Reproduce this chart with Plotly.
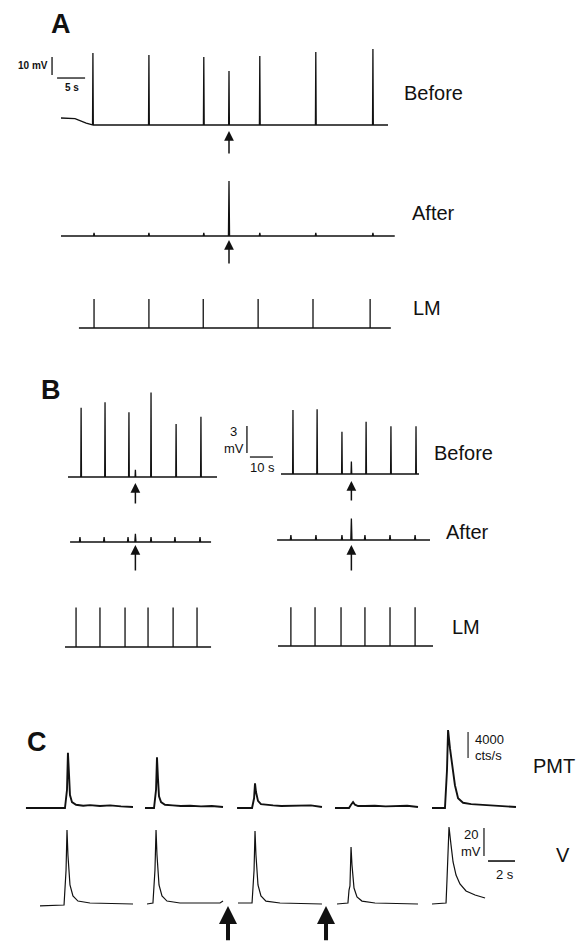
import plotly.graph_objects as go

W, H = 580, 945
FONT = "Liberation Sans, Arial, sans-serif"
INK = "#111111"

# ======================= DATA =======================
# ---- Panel A : time (s), membrane potential (mV), light monitor (a.u.)
A_stim_t = 30.0
A_before_span = [0.0, 58.4]
A_before_drift_t = [0.0, 2.5, 4.5, 5.4]
A_before_drift_mv = [3.9, 3.5, 1.0, 0.3]
A_before_spike_t = [5.7, 15.7, 25.5, 30.0, 35.5, 45.5, 55.7]
A_before_spike_mv = [40.0, 38.9, 37.8, 30.0, 38.3, 40.6, 42.2]
A_after_span = [0.0, 59.6]
A_after_spike_t = [5.9, 15.7, 25.5, 30.0, 35.5, 45.5, 55.7]
A_after_spike_mv = [1.7, 1.7, 1.7, 30.5, 1.7, 1.7, 1.7]
A_lm_span = [3.2, 58.9]
A_lm_t = [5.9, 15.7, 25.4, 35.2, 45.0, 55.2]
A_lm_amp = [16.1, 16.1, 16.1, 16.1, 16.1, 16.1]

# ---- Panel B : time (s), potential (mV), LM (a.u.); left and right records
B_stim_L, B_stim_R = 29.3, 30.6
B_beforeL_span = [0.0, 64.8]
B_beforeL_t = [5.7, 16.1, 26.5, 29.3, 36.1, 47.0, 57.8]
B_beforeL_mv = [7.7, 8.3, 7.2, 0.8, 9.4, 5.9, 6.7]
B_beforeR_span = [0.0, 60.0]
B_beforeR_t = [5.2, 15.7, 26.5, 30.6, 37.0, 47.8, 58.7]
B_beforeR_mv = [7.1, 7.2, 4.7, 1.4, 5.8, 5.3, 5.3]
B_afterL_span = [0.9, 62.2]
B_afterL_t = [5.2, 15.7, 26.1, 29.3, 36.1, 46.5, 57.4]
B_afterL_mv = [0.55, 0.55, 0.55, 0.9, 0.55, 0.55, 0.55]
B_afterR_span = [-1.7, 64.8]
B_afterR_t = [4.3, 15.2, 26.5, 30.6, 36.5, 47.4, 58.3]
B_afterR_mv = [0.55, 0.55, 0.55, 2.4, 0.55, 0.55, 0.55]
B_lmL_span = [-1.3, 62.2]
B_lmL_t = [3.5, 13.9, 24.8, 34.8, 45.7, 56.1]
B_lmL_amp = [4.4, 4.4, 4.4, 4.4, 4.4, 4.4]
B_lmR_span = [-1.3, 66.1]
B_lmR_t = [4.3, 14.8, 26.1, 36.5, 47.4, 58.3]
B_lmR_amp = [4.3, 4.3, 4.3, 4.3, 4.3, 4.3]

# ---- Panel C : five sweeps; time (s), PMT (1000 cts/s), V (mV)
C_pmt_t = [
    [-1.04, 1.85, 2.0, 2.07, 2.15, 2.22, 2.37, 2.67, 3.2, 3.7, 4.44, 5.2, 6.0, 6.89],
    [-0.15, 0.52, 0.67, 0.74, 0.81, 0.89, 1.04, 1.33, 1.9, 2.5, 3.19, 4.0, 4.8, 5.63],
    [-0.07, 1.04, 1.19, 1.26, 1.33, 1.48, 1.70, 2.0, 2.6, 3.2, 3.85, 4.6, 5.4, 6.22],
    [-0.15, 0.89, 1.04, 1.19, 1.33, 1.56, 2.07, 2.8, 3.6, 4.4, 5.2, 6.0],
    [0.0, 0.96, 1.11, 1.19, 1.33, 1.48, 1.70, 1.93, 2.30, 2.9, 3.56, 4.3, 5.2, 6.22],
]
C_pmt_k = [
    [0, 0, 2.8, 8.5, 5.1, 2.0, 0.9, 0.5, 0.35, 0.45, 0.3, 0.4, 0.25, 0.15],
    [0, 0, 2.8, 7.8, 4.6, 1.8, 0.9, 0.5, 0.4, 0.3, 0.35, 0.25, 0.3, 0.15],
    [0, 0, 1.5, 3.8, 2.5, 1.1, 0.6, 0.5, 0.4, 0.3, 0.35, 0.3, 0.4, 0.15],
    [0, 0, 0.5, 0.9, 0.5, 0.3, 0.3, 0.35, 0.25, 0.3, 0.35, 0.15],
    [0, 0, 5.8, 12.0, 9.2, 7.1, 3.5, 1.5, 0.8, 0.6, 0.5, 0.4, 0.3, 0.15],
]
C_v_t = [
    [0, 1.78, 1.93, 2.0, 2.07, 2.22, 2.44, 2.81, 3.70, 6.89],
    [0, 0.44, 0.59, 0.67, 0.74, 0.89, 1.11, 1.48, 2.44, 5.41, 5.63],
    [0, 1.04, 1.19, 1.26, 1.33, 1.48, 1.70, 2.07, 3.11, 6.22],
    [0, 0.81, 0.89, 0.96, 1.04, 1.11, 1.26, 1.48, 1.85, 2.81, 6.0],
    [0, 1.04, 1.11, 1.26, 1.41, 1.56, 1.78, 2.07, 2.52, 3.19, 3.93],
]
C_v_mv = [
    [-1.4, -0.7, 24.3, 52.9, 35.0, 13.6, 5.7, 2.1, 0.7, 0],
    [0, 0.7, 24.3, 52.9, 35.0, 13.6, 5.7, 2.1, 0.7, 0.7, 2.1],
    [0.7, 0.7, 24.3, 52.1, 35.0, 13.6, 5.7, 2.1, 0.7, 0],
    [0, 0.7, 10.0, 12.9, 40.7, 27.9, 11.4, 5.0, 2.1, 0.7, 0],
    [0, 0.7, 17.1, 55.0, 42.1, 30.0, 20.7, 14.3, 9.3, 6.4, 4.3],
]
C_stim = [(1, 6.0), (2, 6.52)]   # (sweep index, time) of the flashes

# ======================= LAYOUT (pixels) =======================
A_pps, A_ppu = 5.6, 1.8
B_pps, B_ppu = 2.3, 9.0
C_pps, C_ppv, C_ppk = 13.5, 1.4, 6.5
C_sweep_x = [40, 147, 238, 337, 432]
C_pmt_base, C_v_base = 808, 904

fig = go.Figure()
_n = [0]


def axes(ox, oy, pps, ppu):
    _n[0] += 1
    s = "" if _n[0] == 1 else str(_n[0])
    fig.update_layout(**{
        "xaxis" + s: dict(domain=[0, 1], range=[-ox / pps, (W - ox) / pps],
                          visible=False, fixedrange=True, anchor="y" + s),
        "yaxis" + s: dict(domain=[0, 1], range=[-(H - oy) / ppu, oy / ppu],
                          visible=False, fixedrange=True, anchor="x" + s),
    })
    return "x" + s, "y" + s


def spiky(span, ts, vs, hw, drift_t=(), drift_v=()):
    pts = list(zip(drift_t, drift_v))
    if not pts:
        pts.append((span[0], 0.0))
    pts.append((span[1], 0.0))
    for t, v in zip(ts, vs):
        pts += [(t - hw, 0.0), (t, v), (t + hw, 0.0)]
    pts.sort(key=lambda p: p[0])
    return [p[0] for p in pts], [p[1] for p in pts]


def line(xs, ys, ax, lw=1.2):
    fig.add_trace(go.Scatter(x=xs, y=ys, mode="lines", xaxis=ax[0], yaxis=ax[1],
                             line=dict(color=INK, width=lw), hoverinfo="skip",
                             showlegend=False))


def arrow(ax, t, tip, tail, w=1.5, size=1.3):
    fig.add_annotation(xref=ax[0], yref=ax[1], axref=ax[0], ayref=ax[1],
                       x=t, y=tip, ax=t, ay=tail, text="", showarrow=True,
                       arrowhead=2, arrowsize=size, arrowwidth=w,
                       arrowcolor=INK, standoff=0)


def bar(ax, x0, y0, x1, y1, w=1.3):
    fig.add_shape(type="line", xref=ax[0], yref=ax[1], x0=x0, y0=y0, x1=x1,
                  y1=y1, line=dict(color=INK, width=w))


def text(s, px, py, size, anchor="left", bold=False, va="middle"):
    fig.add_annotation(xref="paper", yref="paper", x=px / W, y=1 - py / H,
                       text=("<b>%s</b>" % s) if bold else s, showarrow=False,
                       xanchor=anchor, yanchor=va, borderpad=0,
                       font=dict(family=FONT, size=size, color=INK))


# ---------- Panel A ----------
ax = axes(61, 125, A_pps, A_ppu)
line(*spiky(A_before_span, A_before_spike_t, A_before_spike_mv, 0.07,
            A_before_drift_t, A_before_drift_mv), ax, 1.3)
arrow(ax, A_stim_t, -3.3, -16.7)
bar(ax, -1.6, 27.8, -1.6, 37.8)
bar(ax, -0.7, 26.1, 4.3, 26.1)
ax = axes(61, 236, A_pps, A_ppu)
line(*spiky(A_after_span, A_after_spike_t, A_after_spike_mv, 0.1), ax, 1.3)
arrow(ax, A_stim_t, -2.2, -16.1)
ax = axes(61, 328, A_pps, A_ppu)
line(*spiky(A_lm_span, A_lm_t, A_lm_amp, 0.0), ax, 1.3)

# ---------- Panel B ----------
axL = axes(68, 477, B_pps, B_ppu)
line(*spiky(B_beforeL_span, B_beforeL_t, B_beforeL_mv, 0.15), axL, 1.3)
arrow(axL, B_stim_L, -0.67, -3.1)
bar(axL, 77.8, 2.67, 77.8, 5.67)
bar(axL, 79.1, 2.22, 89.1, 2.22)
axR = axes(281, 474, B_pps, B_ppu)
line(*spiky(B_beforeR_span, B_beforeR_t, B_beforeR_mv, 0.15), axR, 1.3)
arrow(axR, B_stim_R, -0.78, -3.1)
axL = axes(68, 542, B_pps, B_ppu)
line(*spiky(B_afterL_span, B_afterL_t, B_afterL_mv, 0.25), axL, 1.3)
arrow(axL, B_stim_L, -0.33, -3.33)
axR = axes(281, 540, B_pps, B_ppu)
line(*spiky(B_afterR_span, B_afterR_t, B_afterR_mv, 0.25), axR, 1.3)
arrow(axR, B_stim_R, -0.56, -3.56)
axL = axes(68, 647, B_pps, B_ppu)
line(*spiky(B_lmL_span, B_lmL_t, B_lmL_amp, 0.0), axL, 1.3)
axR = axes(281, 646, B_pps, B_ppu)
line(*spiky(B_lmR_span, B_lmR_t, B_lmR_amp, 0.0), axR, 1.3)

# ---------- Panel C ----------
v_axes = []
for i, x0 in enumerate(C_sweep_x):
    ap = axes(x0, C_pmt_base, C_pps, C_ppk)
    line(C_pmt_t[i], C_pmt_k[i], ap, 1.9)
    if i == 4:
        bar(ap, 2.67, 7.7, 2.67, 11.7, 1.1)
    av = axes(x0, C_v_base, C_pps, C_ppv)
    line(C_v_t[i], C_v_mv[i], av, 1.2)
    v_axes.append(av)
    if i == 4:
        bar(av, 3.85, 34.3, 3.85, 54.3, 1.2)
        bar(av, 4.15, 30.7, 6.15, 30.7, 1.6)
for i, t in C_stim:
    arrow(v_axes[i], t, -1.4, -27.0, w=4, size=0.9)

# ---------- Text ----------
text("A", 61, 24, 27, "center", True)
text("10 mV", 49, 65, 10, "right", True)
text("5 s", 72, 87, 10, "center", True)
text("Before", 403, 93, 20)
text("After", 411, 213, 20)
text("LM", 412, 308, 20)
text("B", 51, 390, 27, "center", True)
text("3", 233, 440, 13, "center", va="bottom")
text("mV", 245, 440, 13, "right", va="top")
text("10 s", 262, 467, 13, "center")
text("Before", 433, 453, 20)
text("After", 445, 532, 20)
text("LM", 451, 627, 20)
text("C", 37, 742, 27, "center", True)
text("4000", 474, 739, 13)
text("cts/s", 474, 755, 13)
text("PMT", 532, 766, 20)
text("20", 471, 843, 13, "center", va="bottom")
text("mV", 471, 843, 13, "center", va="top")
text("2 s", 505, 874, 13, "center")
text("V", 563, 855, 20, "center")

fig.update_layout(width=W, height=H, margin=dict(l=0, r=0, t=0, b=0),
                  paper_bgcolor="white", plot_bgcolor="rgba(0,0,0,0)",
                  showlegend=False)
fig.write_html("out.html", config={"displayModeBar": False})
